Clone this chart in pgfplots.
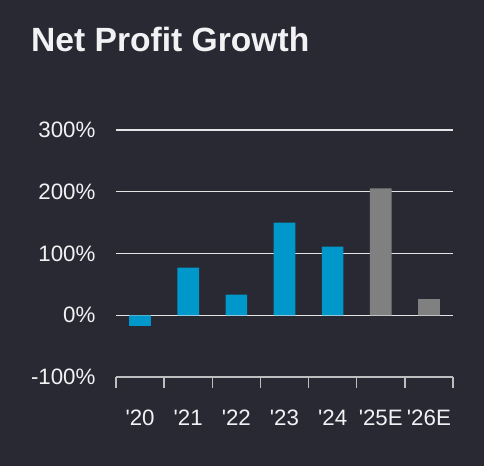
\documentclass[border=0pt]{standalone}
\usepackage{fontspec}
\setmainfont{Liberation Sans}
\usepackage{pgfplots}
\pgfplotsset{compat=1.18}
\definecolor{bgdark}{RGB}{40,41,51}
\definecolor{barblue}{RGB}{0,152,202}
\definecolor{bargrey}{RGB}{128,128,128}
\definecolor{gridc}{RGB}{228,228,230}
\definecolor{axisc}{RGB}{190,190,192}
\definecolor{txt}{RGB}{242,242,244}
\newcommand{\q}{\textquotesingle}
\begin{document}
\begin{tikzpicture}
\fill[bgdark] (0,0) rectangle (484pt,466pt);
\node[anchor=base west, inner sep=0pt, text=txt, font=\fontsize{33.6}{40}\selectfont\bfseries]
  at (31pt,414pt) {Net Profit Growth};
\begin{axis}[
    at={(116pt,89pt)}, anchor=south west,
    scale only axis, width=337pt, height=247pt,
    xmin=-0.5, xmax=6.5, ymin=-100, ymax=300,
    axis x line=bottom, axis y line=left,
    y axis line style={draw=none},
    x axis line style={draw=axisc, line width=1.3pt, -},
    ytick={-100,0,100,200,300},
    yticklabels={-100\%,0\%,100\%,200\%,300\%},
    ymajorgrids,
    grid style={gridc, line width=1.4pt},
    xtick={0,...,6},
    xticklabels={\q20,\q21,\q22,\q23,\q24,\q25E,\q26E},
    minor xtick={-0.5,0.5,...,6.5},
    major tick length=0pt, minor tick length=11pt,
    tick align=outside,
    minor tick style={draw=axisc, line width=1.3pt},
    ticklabel style={text=txt, font=\fontsize{22.3}{26}\selectfont},
    yticklabel style={xshift=-17pt},
    xticklabel style={yshift=-29pt},
    clip=false,
]
\addplot[ybar, bar width=21.7pt, bar shift=0pt, fill=barblue, draw=none]
  coordinates {(0,-17) (1,77) (2,33.5) (3,150) (4,111)};
\addplot[ybar, bar width=21.7pt, bar shift=0pt, fill=bargrey, draw=none]
  coordinates {(5,205.5) (6,26)};
\end{axis}
\end{tikzpicture}
\end{document}
